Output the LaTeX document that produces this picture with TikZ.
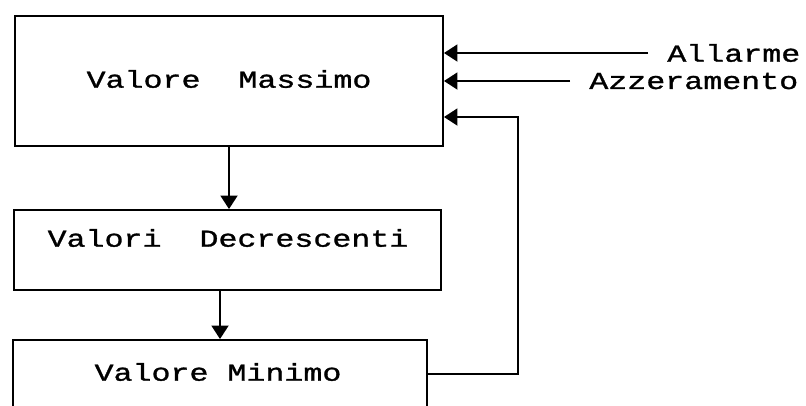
\documentclass[tikz,border=0pt]{standalone}
\usepackage{fontspec}
\usepackage{tikz}
\usetikzlibrary{positioning,arrows.meta,calc}
\newfontfamily\dotfont[FakeStretch=1.3, FakeBold=1.2]{Liberation Mono}
\definecolor{ink}{HTML}{000000}
\begin{document}
\begin{tikzpicture}[
  font=\dotfont\fontsize{13.85}{16}\selectfont, >={Triangle[length=2.7mm, width=3.4mm]},
  blk/.style={draw=ink, line width=1.1pt, inner sep=0pt},
  txt/.style={inner sep=0pt},
  sig/.style={inner ysep=0pt, inner xsep=0.38cm, anchor=west},
  flow/.style={->, line width=1.1pt, draw=ink},
]
\useasboundingbox (0,0) rectangle (16.12,8.1);
% -- blocks
\node[blk, minimum width=8.56cm, minimum height=2.6cm] (max) at (4.58,6.48) {};
\node[txt] (maxt) at (4.58,6.52) {Valore~~Massimo};
\node[blk, minimum width=8.54cm, minimum height=1.6cm] (dec) at (4.55,3.10) {};
\node[txt] (dect) at (4.56,3.34) {Valori~~Decrescenti};
\node[blk, minimum width=8.28cm, minimum height=1.36cm] (min) at (4.40,0.62) {};
\node[txt] (mint) at (4.36,0.66) {Valore Minimo};
% -- inputs on the right
\node[sig] (allarme) at (12.96,7.04) {Allarme};
\node[sig] (azz) at (11.40,6.48) {Azzeramento};
\coordinate (fbk) at (10.36,5.76);
% -- flows
\draw[flow] (max.south) -- (max.south |- dec.north);
\draw[flow] (min.north |- dec.south) -- (min.north);
\draw[flow] (allarme.west) -- (allarme.west -| max.east);
\draw[flow] (azz.west) -- (azz.west -| max.east);
\draw[flow] (min.east) -| (fbk) -- (fbk -| max.east);
\end{tikzpicture}
\end{document}
